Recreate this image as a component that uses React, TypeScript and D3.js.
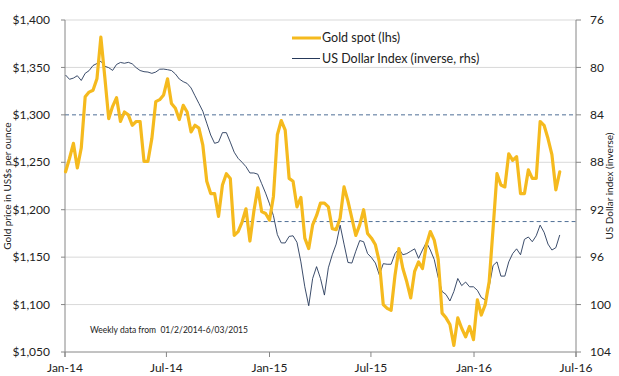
import React from "react";
import * as d3 from "d3";

const START = new Date(2014, 0, 2);
const gold: number[] = [
  1240, 1254, 1270, 1244, 1265, 1319, 1324, 1326, 1338, 1382,
  1340, 1296, 1309, 1318, 1293, 1303, 1300, 1289, 1293, 1293,
  1251, 1251, 1275, 1314, 1316, 1321, 1338, 1312, 1307, 1295,
  1310, 1303, 1282, 1289, 1286, 1268, 1230, 1217, 1217, 1193,
  1226, 1238, 1233, 1173, 1177, 1187, 1201, 1167, 1198, 1223,
  1198, 1196, 1189, 1214, 1279, 1294, 1284, 1233, 1230, 1203,
  1213, 1170, 1159, 1184, 1194, 1207, 1207, 1203, 1180, 1179,
  1191, 1224, 1209, 1191, 1173, 1184, 1200, 1175, 1170, 1163,
  1145, 1100, 1096, 1094, 1131, 1159, 1138, 1124, 1107, 1135,
  1145, 1138, 1163, 1177, 1168, 1148, 1091, 1086, 1079, 1057,
  1086, 1075, 1066, 1077, 1063, 1105, 1089, 1100, 1124, 1180,
  1238, 1226, 1224, 1259, 1252, 1256, 1217, 1217, 1242, 1233,
  1233, 1293, 1289, 1275, 1258, 1221, 1240,
];
const usd: number[] = [
  80.64, 81.0, 80.9, 80.7, 81.1, 80.5, 80.27, 79.84, 79.67, 79.48,
  79.9, 80.02, 80.25, 79.75, 79.58, 79.65, 79.57, 79.7, 80.02, 80.26,
  80.36, 80.39, 80.5, 80.39, 80.15, 80.14, 80.19, 80.26, 80.55, 80.98,
  81.2, 81.35, 81.73, 82.39, 83.04, 83.7, 84.7, 85.7, 86.4, 86.3,
  85.5, 85.5, 86.3, 87.15, 87.67, 88.0, 88.37, 88.9, 88.9, 89.0,
  89.8, 90.6, 91.5, 92.5, 94.1, 94.8, 94.8, 94.25, 94.2, 94.75,
  96.4, 98.5, 100.1, 97.8, 96.8, 97.8, 99.2, 96.9, 95.8, 94.9,
  93.3, 94.9, 96.45, 96.5, 95.5, 94.6, 94.7, 95.7, 96.04, 96.5,
  97.5, 96.55, 96.6, 96.6, 95.7, 95.3, 95.8, 95.7, 95.5, 95.3,
  96.1, 95.4, 94.75, 95.4, 96.2, 97.7, 98.9, 99.15, 99.7, 98.9,
  97.8, 98.4, 98.1, 98.5, 98.5, 98.8, 99.4, 99.62, 98.5, 96.7,
  96.4, 97.6, 97.6, 96.4, 95.7, 95.3, 95.8, 94.5, 94.3, 94.7,
  94.2, 93.3, 93.9, 94.9, 95.4, 95.2, 94.13,
];
const leftTicks = [1050, 1100, 1150, 1200, 1250, 1300, 1350, 1400];
const rightTicks = [76, 80, 84, 88, 92, 96, 100, 104];
const refLines = [
  { value: 84, from: new Date(2014, 0, 1) },
  { value: 93, from: new Date(2014, 10, 14) },
];

const W = 619, H = 376;
const L = 65, R = 576, T = 20, B = 352;
const FONT = "Lato, 'Open Sans', sans-serif";

export default function App() {
  const dates = gold.map((_, i) => d3.timeDay.offset(START, i * 7));
  const x = d3.scaleTime().domain([new Date(2014, 0, 1), new Date(2016, 6, 1)]).range([L, R]);
  const yL = d3.scaleLinear().domain([1050, 1400]).range([B, T]);
  const yR = d3.scaleLinear().domain([104, 76]).range([B, T]);
  const xTicks = d3.timeMonth.every(6)!.range(new Date(2014, 0, 1), new Date(2016, 6, 2));
  const fmtX = d3.timeFormat("%b-%y");
  const fmtL = d3.format("$,");
  const goldLine = d3.line<number>().x((_, i) => x(dates[i])).y((d) => yL(d));
  const usdLine = d3.line<number>().x((_, i) => x(dates[i])).y((d) => yR(d));

  return (
    <svg width={W} height={H} style={{ position: "absolute", left: 0, top: 0, background: "#fff" }} fontFamily={FONT}>
      {leftTicks.filter((t) => t !== 1050 && t !== 1300).map((t) => (
        <line key={t} x1={L} x2={R} y1={yL(t)} y2={yL(t)} stroke="#d9d9d9" strokeWidth={1} />
      ))}
      {refLines.map((r) => (
        <line key={r.value} x1={x(r.from)} x2={R} y1={yR(r.value)} y2={yR(r.value)} stroke="#4f6f96" strokeWidth={1} strokeDasharray="4,3" />
      ))}
      <line x1={L} x2={L} y1={T} y2={B + 5} stroke="#868686" />
      <line x1={R} x2={R} y1={T} y2={B + 5} stroke="#868686" />
      <line x1={L} x2={R} y1={B} y2={B} stroke="#868686" />
      {leftTicks.map((t) => (
        <g key={t}>
          <line x1={L - 4} x2={L} y1={yL(t)} y2={yL(t)} stroke="#868686" />
          <text x={50} y={yL(t)} dy="0.35em" textAnchor="end" fontSize={12} fill="#222">{fmtL(t)}</text>
        </g>
      ))}
      {rightTicks.map((t) => (
        <g key={t}>
          <line x1={R} x2={R + 5} y1={yR(t)} y2={yR(t)} stroke="#868686" />
          <text x={590} y={yR(t)} dy="0.35em" textAnchor="start" fontSize={12} fill="#222">{t}</text>
        </g>
      ))}
      {xTicks.map((d) => (
        <g key={+d}>
          <line x1={x(d)} x2={x(d)} y1={B} y2={B + 5} stroke="#868686" />
          <text x={x(d)} y={372} textAnchor="middle" fontSize={12} fill="#222">{fmtX(d)}</text>
        </g>
      ))}
      <text transform={`translate(11,${(T + B) / 2}) rotate(-90)`} textAnchor="middle" fontSize={10} fill="#222">Gold price in US$s per ounce</text>
      <text transform={`translate(613,${(T + B) / 2}) rotate(-90)`} textAnchor="middle" fontSize={10} fill="#222">US Dollar index (inverse)</text>
      <text x={90} y={333} fontSize={8.5} fill="#222" style={{ whiteSpace: "pre" }}>{"Weekly data from  01/2/2014-6/03/2015"}</text>
      <path d={usdLine(usd)!} fill="none" stroke="#26395a" strokeWidth={0.9} strokeLinejoin="round" />
      <path d={goldLine(gold)!} fill="none" stroke="#f5ba1e" strokeWidth={3.2} strokeLinejoin="round" strokeLinecap="round" />
      <line x1={292} x2={321} y1={38} y2={38} stroke="#f5ba1e" strokeWidth={3} />
      <text x={322} y={38} dy="0.35em" fontSize={12.5} fill="#222">Gold spot (lhs)</text>
      <line x1={292} x2={320} y1={58.5} y2={58.5} stroke="#26395a" strokeWidth={1} />
      <text x={322} y={58.5} dy="0.35em" fontSize={12.5} fill="#222">US Dollar Index (inverse, rhs)</text>
    </svg>
  );
}
